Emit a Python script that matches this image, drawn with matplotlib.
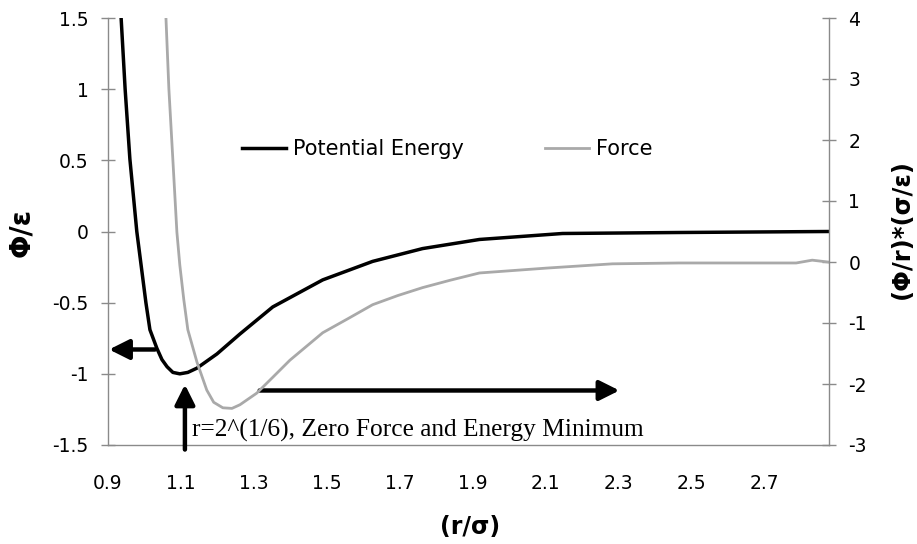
# -*- coding: utf-8 -*-
import matplotlib
matplotlib.use("Agg")
import matplotlib.pyplot as plt

# potentiel (axe de gauche)
r_pot = [0.936, 0.947, 0.960, 0.979, 1.004, 1.015, 1.034, 1.048, 1.062, 1.078,
         1.097, 1.119, 1.144, 1.199, 1.262, 1.352, 1.489, 1.626, 1.763, 1.919,
         2.147, 2.467, 2.875]
phi = [1.50, 1.00, 0.51, 0.00, -0.50, -0.69, -0.82, -0.90, -0.95, -0.99,
       -1.00, -0.99, -0.96, -0.86, -0.72, -0.53, -0.34, -0.21, -0.12, -0.056,
       -0.014, -0.007, 0.0]

# force (axe de droite)
r_force = [1.059, 1.067, 1.078, 1.089, 1.097, 1.108, 1.119, 1.144, 1.171, 1.190,
           1.215, 1.240, 1.262, 1.308, 1.352, 1.399, 1.445, 1.489, 1.558, 1.626,
           1.695, 1.763, 1.838, 1.919, 2.103, 2.284, 2.467, 2.788, 2.832, 2.875]
force = [4.0, 2.84, 1.67, 0.49, -0.05, -0.62, -1.11, -1.64, -2.10, -2.30,
         -2.39, -2.40, -2.34, -2.15, -1.89, -1.61, -1.38, -1.16, -0.93, -0.70,
         -0.55, -0.42, -0.30, -0.18, -0.10, -0.03, -0.016, -0.016, 0.03, 0.0]

xticks = [0.9, 1.1, 1.3, 1.5, 1.7, 1.9, 2.1, 2.3, 2.5, 2.7]
left_ticks = [-1.5, -1, -0.5, 0, 0.5, 1, 1.5]
right_ticks = [-3, -2, -1, 0, 1, 2, 3, 4]

GRIS = "#8a8a8a"

fig = plt.figure(figsize=(9.17, 5.44), dpi=100)
ax = fig.add_axes([108 / 917, 1 - 445 / 544, 721 / 917, 427 / 544])
ax2 = ax.twinx()

l1, = ax.plot(r_pot, phi, color="black", lw=2.5, label="Potential Energy", zorder=3)
l2, = ax2.plot(r_force, force, color="#a9a9a9", lw=2.0, label="Force", zorder=2)

ax.set_xlim(0.9, 2.878)
ax.set_ylim(-1.5, 1.5)
ax2.set_ylim(-3, 4)

ax.set_xticks(xticks)
ax.set_xticklabels([str(v) for v in xticks])
ax.set_yticks(left_ticks)
ax.set_yticklabels(["-1.5", "-1", "-0.5", "0", "0.5", "1", "1.5"])
ax2.set_yticks(right_ticks)
ax2.set_yticklabels([str(v) for v in right_ticks])

for a in (ax, ax2):
    a.spines["top"].set_visible(False)
    for s in a.spines.values():
        s.set_color(GRIS)
        s.set_linewidth(1.0)
ax.spines["right"].set_visible(False)
ax2.spines["left"].set_visible(False)
ax2.spines["bottom"].set_visible(False)

ax.tick_params(axis="x", length=0, pad=21, labelsize=13.5)
ax.tick_params(axis="y", direction="inout", length=10, width=1, color=GRIS,
               pad=9, labelsize=13.5)
ax2.tick_params(axis="y", direction="inout", length=10, width=1, color=GRIS,
                pad=9, labelsize=13.5)

fig.text(21 / 917, 1 - 232 / 544, "Φ/ε", rotation=90, fontsize=20,
         fontweight="bold", ha="center", va="center")
fig.text(902 / 917, 1 - 229 / 544, "(Φ/r)*(σ/ε)", rotation=90, fontsize=17.5,
         fontweight="bold", ha="center", va="center")
fig.text(470 / 917, 1 - 527 / 544, "(r/σ)", fontsize=17, fontweight="bold",
         ha="center", va="center")

leg = fig.legend([l1, l2], ["Potential Energy", "Force"], loc="center left",
                 bbox_to_anchor=(242 / 917, 1 - 149 / 544), ncol=2, frameon=False,
                 fontsize=15, borderpad=0, borderaxespad=0, handlelength=2.1,
                 handletextpad=0.35, columnspacing=3.9)

# fleches
style = "-|>,head_length=1.0,head_width=0.5"
props = dict(arrowstyle=style, color="black", lw=3.2, mutation_scale=12,
             shrinkA=0, shrinkB=0)
ax.annotate("", xy=(0.903, -0.829), xytext=(1.029, -0.829), arrowprops=props,
            annotation_clip=False)
ax.annotate("", xy=(1.111, -1.075), xytext=(1.111, -1.532), arrowprops=props,
            annotation_clip=False)
ax.annotate("", xy=(2.303, -1.117), xytext=(1.316, -1.117), arrowprops=props,
            annotation_clip=False)

ax.text(0.1165, 0.019, "r=2^(1/6), Zero Force and Energy Minimum",
        transform=ax.transAxes, fontsize=18.3, family="Liberation Serif",
        ha="left", va="baseline")

fig.savefig("out.png", dpi=100)
